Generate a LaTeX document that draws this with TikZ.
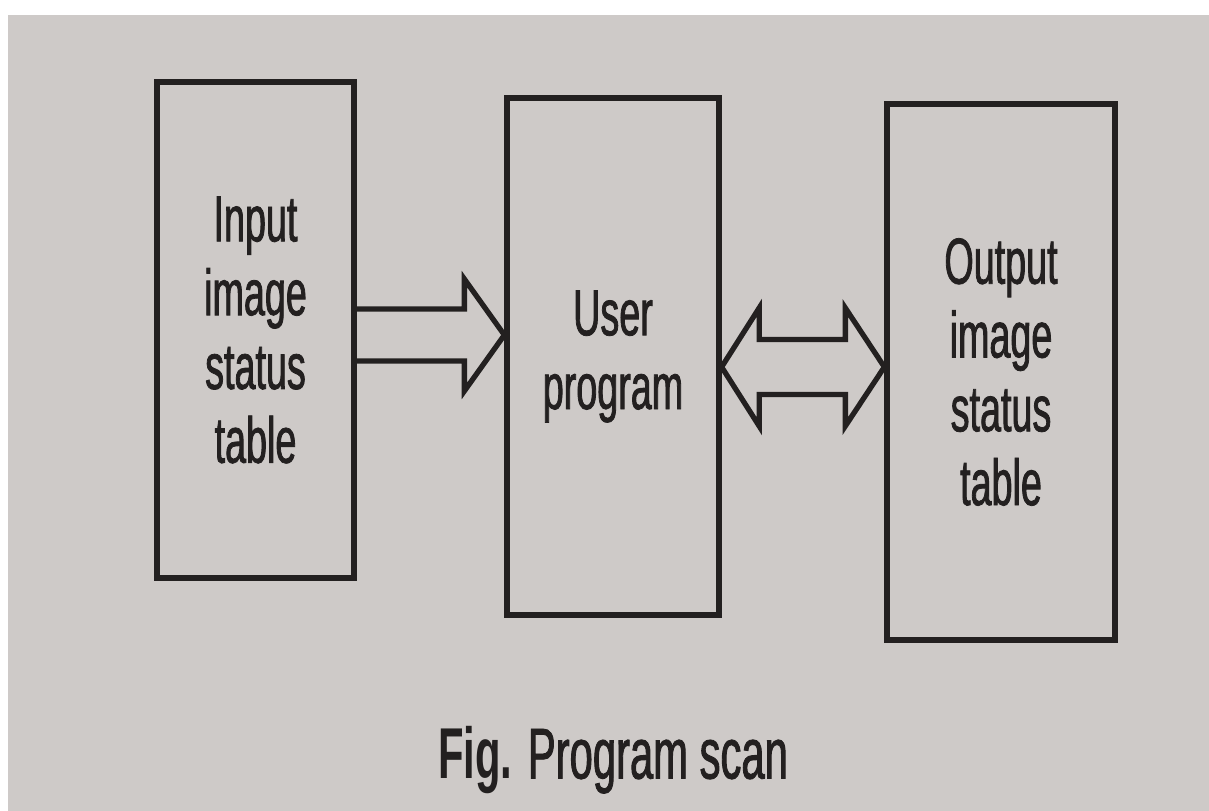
\documentclass[tikz,border=0pt]{standalone}
\usepackage{fontspec}
\setmainfont{Liberation Sans}[FakeStretch=0.58, UprightFeatures={FakeBold=1.2}]
\usetikzlibrary{positioning, calc}

\definecolor{paper}{RGB}{206,202,200}
\definecolor{ink}{RGB}{35,32,32}

\begin{document}
\begin{tikzpicture}[every node/.style={text=ink, align=center, font=\fontsize{37}{42}\selectfont}
    , table/.style={draw=ink, line width=3pt, rectangle}
    , blockarrow/.style={draw=ink, line width=3pt}
    ]

    % photo background with white margins
    \fill[white] (0,0) rectangle (24.18,-16.22);
    \fill[paper] (0.16,-0.3) rectangle (24.18,-16.22);
    \useasboundingbox (0,0) rectangle (24.18,-16.22);

    \node[table, minimum width=3.94cm, minimum height=9.92cm] (inp) at (5.11,-6.6)
        {Input\\image\\status\\table};
    \node[table, minimum width=4.24cm, minimum height=10.34cm] (usr) at (12.26,-7.13)
        {User\\program};
    \node[table, minimum width=4.56cm, minimum height=10.72cm] (out) at (20.02,-7.44)
        {Output\\image\\status\\table};

    % input table to user program
    \coordinate (a1s) at (inp.east |- 0,-6.7);
    \coordinate (a1t) at (usr.west |- 0,-6.7);
    \draw[blockarrow] ($(a1s)+(0,0.52)$) -- ($(a1t)+(-0.8,0.52)$) -- ($(a1t)+(-0.8,1.12)$)
        -- (a1t) -- ($(a1t)+(-0.8,-1.12)$) -- ($(a1t)+(-0.8,-0.52)$) -- ($(a1s)+(0,-0.52)$);

    % user program to and from output table
    \coordinate (a2l) at (usr.east |- 0,-7.34);
    \coordinate (a2r) at (out.west |- 0,-7.34);
    \draw[blockarrow] (a2l) -- ++(0.75,1.18) -- ++(0,-0.63) -- ($(a2r)+(-0.78,0.55)$)
        -- ++(0,0.63) -- (a2r) -- ++(-0.78,-1.18) -- ++(0,0.63)
        -- ($(a2l)+(0.75,-0.55)$) -- ++(0,-0.63) -- cycle;

    \node[below=2.05cm of usr, font=\fontsize{41}{46}\selectfont] (cap) {\textbf{Fig.} Program scan};

\end{tikzpicture}
\end{document}
